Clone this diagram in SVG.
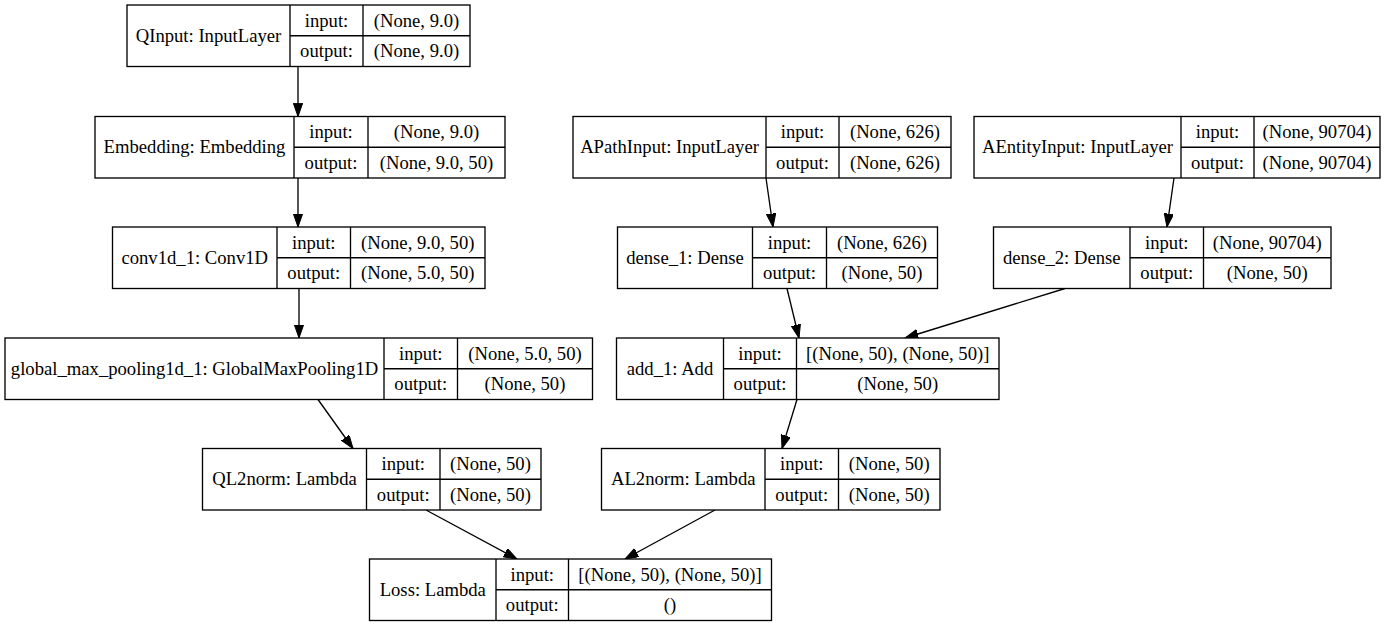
<svg xmlns="http://www.w3.org/2000/svg" width="1388" height="627" viewBox="0 0 1388 627">
<style>
  .box { fill: #fff; stroke: #000; stroke-width: 1.33; }
  .ln { stroke: #000; stroke-width: 1.33; fill: none; }
  text { font-family: "Liberation Serif", "Times New Roman", serif; font-size: 18.67px; fill: #000; text-anchor: middle; }
  .edge { stroke: #000; stroke-width: 1.33; fill: none; marker-end: url(#arr); }
</style>
<defs>
  <marker id="arr" markerUnits="userSpaceOnUse" markerWidth="14" markerHeight="10" refX="13.3" refY="4.67" orient="auto">
    <path d="M0,0 L13.3,4.67 L0,9.33 z" fill="#000" stroke="#000" stroke-width="1"/>
  </marker>
</defs>
<rect width="1388" height="627" fill="#fff"/>

<g id="connectors">
  <line class="edge" x1="298" y1="66.5" x2="298" y2="116.5"/>
  <line class="edge" x1="298" y1="178" x2="298" y2="227"/>
  <line class="edge" x1="299" y1="288.5" x2="299" y2="338"/>
  <line class="edge" x1="766" y1="178" x2="773" y2="227"/>
  <line class="edge" x1="1174" y1="178" x2="1167" y2="227"/>
  <line class="edge" x1="318" y1="399.5" x2="353" y2="448.5"/>
  <line class="edge" x1="787" y1="288.5" x2="799" y2="338"/>
  <line class="edge" x1="1065" y1="288.5" x2="905" y2="338"/>
  <line class="edge" x1="797" y1="399.5" x2="782" y2="448.5"/>
  <line class="edge" x1="426" y1="510" x2="517" y2="559"/>
  <line class="edge" x1="715" y1="510" x2="625" y2="559"/>
</g>

<g id="QInput">
  <rect class="box" x="127" y="5" width="343" height="61.5"/>
  <line class="ln" x1="290" y1="5" x2="290" y2="66.5"/>
  <line class="ln" x1="363" y1="5" x2="363" y2="66.5"/>
  <line class="ln" x1="290" y1="35.75" x2="470" y2="35.75"/>
  <text x="208.5" y="41.75">QInput: InputLayer</text>
  <text x="326.5" y="26.5">input:</text>
  <text x="326.5" y="57">output:</text>
  <text x="416.5" y="26.5">(None, 9.0)</text>
  <text x="416.5" y="57">(None, 9.0)</text>
</g>

<g id="Embedding">
  <rect class="box" x="95" y="116.5" width="410" height="61.5"/>
  <line class="ln" x1="294" y1="116.5" x2="294" y2="178"/>
  <line class="ln" x1="368" y1="116.5" x2="368" y2="178"/>
  <line class="ln" x1="294" y1="147.25" x2="505" y2="147.25"/>
  <text x="194.5" y="153.25">Embedding: Embedding</text>
  <text x="331" y="138">input:</text>
  <text x="331" y="168.5">output:</text>
  <text x="436.5" y="138">(None, 9.0)</text>
  <text x="436.5" y="168.5">(None, 9.0, 50)</text>
</g>

<g id="APathInput">
  <rect class="box" x="573" y="116.5" width="378" height="61.5"/>
  <line class="ln" x1="766" y1="116.5" x2="766" y2="178"/>
  <line class="ln" x1="839" y1="116.5" x2="839" y2="178"/>
  <line class="ln" x1="766" y1="147.25" x2="951" y2="147.25"/>
  <text x="669.5" y="153.25">APathInput: InputLayer</text>
  <text x="802.5" y="138">input:</text>
  <text x="802.5" y="168.5">output:</text>
  <text x="895" y="138">(None, 626)</text>
  <text x="895" y="168.5">(None, 626)</text>
</g>

<g id="AEntityInput">
  <rect class="box" x="974" y="116.5" width="406" height="61.5"/>
  <line class="ln" x1="1181" y1="116.5" x2="1181" y2="178"/>
  <line class="ln" x1="1254" y1="116.5" x2="1254" y2="178"/>
  <line class="ln" x1="1181" y1="147.25" x2="1380" y2="147.25"/>
  <text x="1077.5" y="153.25">AEntityInput: InputLayer</text>
  <text x="1217.5" y="138">input:</text>
  <text x="1217.5" y="168.5">output:</text>
  <text x="1317" y="138">(None, 90704)</text>
  <text x="1317" y="168.5">(None, 90704)</text>
</g>

<g id="conv1d_1">
  <rect class="box" x="112.5" y="227" width="372.5" height="61.5"/>
  <line class="ln" x1="277" y1="227" x2="277" y2="288.5"/>
  <line class="ln" x1="350.5" y1="227" x2="350.5" y2="288.5"/>
  <line class="ln" x1="277" y1="257.75" x2="485" y2="257.75"/>
  <text x="194.75" y="263.75">conv1d_1: Conv1D</text>
  <text x="313.75" y="248.5">input:</text>
  <text x="313.75" y="279">output:</text>
  <text x="417.75" y="248.5">(None, 9.0, 50)</text>
  <text x="417.75" y="279">(None, 5.0, 50)</text>
</g>

<g id="dense_1">
  <rect class="box" x="617.5" y="227" width="320" height="61.5"/>
  <line class="ln" x1="752.5" y1="227" x2="752.5" y2="288.5"/>
  <line class="ln" x1="826.5" y1="227" x2="826.5" y2="288.5"/>
  <line class="ln" x1="752.5" y1="257.75" x2="937.5" y2="257.75"/>
  <text x="685" y="263.75">dense_1: Dense</text>
  <text x="789.5" y="248.5">input:</text>
  <text x="789.5" y="279">output:</text>
  <text x="882" y="248.5">(None, 626)</text>
  <text x="882" y="279">(None, 50)</text>
</g>

<g id="dense_2">
  <rect class="box" x="993.5" y="227" width="337.5" height="61.5"/>
  <line class="ln" x1="1130" y1="227" x2="1130" y2="288.5"/>
  <line class="ln" x1="1203.5" y1="227" x2="1203.5" y2="288.5"/>
  <line class="ln" x1="1130" y1="257.75" x2="1331" y2="257.75"/>
  <text x="1061.75" y="263.75">dense_2: Dense</text>
  <text x="1166.75" y="248.5">input:</text>
  <text x="1166.75" y="279">output:</text>
  <text x="1267.25" y="248.5">(None, 90704)</text>
  <text x="1267.25" y="279">(None, 50)</text>
</g>

<g id="global_max_pooling1d_1">
  <rect class="box" x="5" y="338" width="587.5" height="61.5"/>
  <line class="ln" x1="384" y1="338" x2="384" y2="399.5"/>
  <line class="ln" x1="457.5" y1="338" x2="457.5" y2="399.5"/>
  <line class="ln" x1="384" y1="368.75" x2="592.5" y2="368.75"/>
  <text x="194.5" y="374.75">global_max_pooling1d_1: GlobalMaxPooling1D</text>
  <text x="420.75" y="359.5">input:</text>
  <text x="420.75" y="390">output:</text>
  <text x="525" y="359.5">(None, 5.0, 50)</text>
  <text x="525" y="390">(None, 50)</text>
</g>

<g id="add_1">
  <rect class="box" x="616.5" y="338" width="382.5" height="61.5"/>
  <line class="ln" x1="723.5" y1="338" x2="723.5" y2="399.5"/>
  <line class="ln" x1="796.5" y1="338" x2="796.5" y2="399.5"/>
  <line class="ln" x1="723.5" y1="368.75" x2="999" y2="368.75"/>
  <text x="670" y="374.75">add_1: Add</text>
  <text x="760" y="359.5">input:</text>
  <text x="760" y="390">output:</text>
  <text x="897.75" y="359.5">[(None, 50), (None, 50)]</text>
  <text x="897.75" y="390">(None, 50)</text>
</g>

<g id="QL2norm">
  <rect class="box" x="202.5" y="448.5" width="338.5" height="61.5"/>
  <line class="ln" x1="366.5" y1="448.5" x2="366.5" y2="510"/>
  <line class="ln" x1="440" y1="448.5" x2="440" y2="510"/>
  <line class="ln" x1="366.5" y1="479.25" x2="541" y2="479.25"/>
  <text x="284.5" y="485.25">QL2norm: Lambda</text>
  <text x="403.25" y="470">input:</text>
  <text x="403.25" y="500.5">output:</text>
  <text x="490.5" y="470">(None, 50)</text>
  <text x="490.5" y="500.5">(None, 50)</text>
</g>

<g id="AL2norm">
  <rect class="box" x="601.5" y="448.5" width="338.5" height="61.5"/>
  <line class="ln" x1="765" y1="448.5" x2="765" y2="510"/>
  <line class="ln" x1="838.5" y1="448.5" x2="838.5" y2="510"/>
  <line class="ln" x1="765" y1="479.25" x2="940" y2="479.25"/>
  <text x="683.25" y="485.25">AL2norm: Lambda</text>
  <text x="801.75" y="470">input:</text>
  <text x="801.75" y="500.5">output:</text>
  <text x="889.25" y="470">(None, 50)</text>
  <text x="889.25" y="500.5">(None, 50)</text>
</g>

<g id="Loss">
  <rect class="box" x="369.5" y="559" width="402" height="61.5"/>
  <line class="ln" x1="496" y1="559" x2="496" y2="620.5"/>
  <line class="ln" x1="568.5" y1="559" x2="568.5" y2="620.5"/>
  <line class="ln" x1="496" y1="589.75" x2="771.5" y2="589.75"/>
  <text x="432.75" y="595.75">Loss: Lambda</text>
  <text x="532.25" y="580.5">input:</text>
  <text x="532.25" y="611">output:</text>
  <text x="670" y="580.5">[(None, 50), (None, 50)]</text>
  <text x="670" y="611">()</text>
</g>
</svg>
